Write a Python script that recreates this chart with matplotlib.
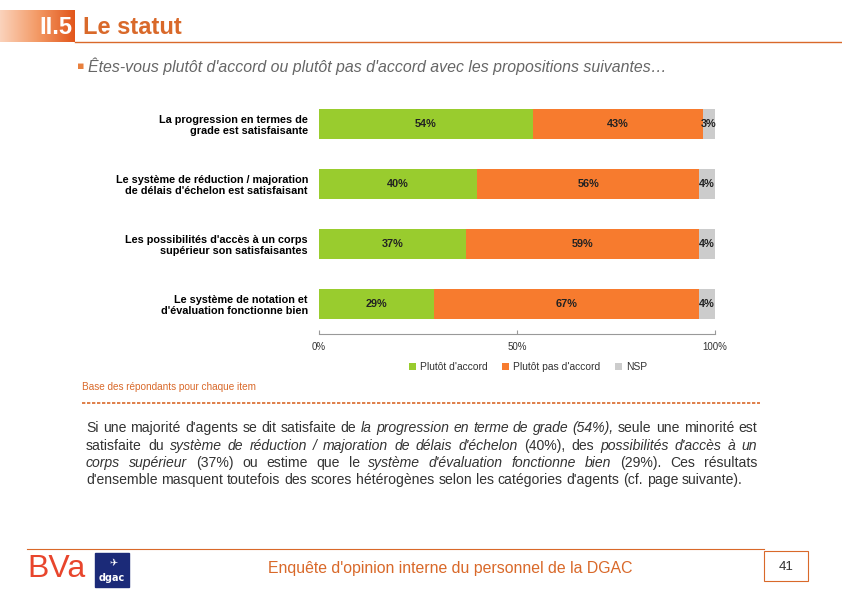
import matplotlib
matplotlib.use("Agg")
import matplotlib.pyplot as plt
import numpy as np
from matplotlib.patches import Rectangle
from matplotlib.colors import LinearSegmentedColormap

W, H = 842, 595
plt.rcParams['font.family'] = ['Liberation Sans', 'DejaVu Sans']

categories = [
    "La progression en termes de\ngrade est satisfaisante",
    "Le système de réduction / majoration\nde délais d'échelon est satisfaisant",
    "Les possibilités d'accès à un corps\nsupérieur son satisfaisantes",
    "Le système de notation et\nd'évaluation fonctionne bien",
]
accord = [54, 40, 37, 29]
pas_accord = [43, 56, 59, 67]
nsp = [3, 4, 4, 4]
series_names = ["Plutôt d'accord", "Plutôt pas d'accord", "NSP"]
tick_values = [0, 50, 100]
tick_labels = ["0%", "50%", "100%"]

GREEN = "#99CC2E"
ORANGE = "#F77B2E"
GREY = "#CCCCCC"
ACCENT = "#D9692A"

fig = plt.figure(figsize=(W / 100, H / 100), dpi=100)

def fx(px):
    return px / W

def fy(py):
    return 1 - py / H

# ---- header ----
hax = fig.add_axes([0, fy(42), fx(75), (42 - 10) / H])
grad = np.linspace(0, 1, 256).reshape(1, -1)
cm = LinearSegmentedColormap.from_list("g", ["#FBD3BC", "#F39A66", "#E2561B"])
hax.imshow(grad, aspect="auto", cmap=cm, extent=[0, 1, 0, 1])
hax.axis("off")
fig.text(fx(72), fy(27), "II.5", color="white", fontsize=17, fontweight="bold",
         ha="right", va="center")
fig.text(fx(83), fy(27), "Le statut", color=ACCENT, fontsize=17, fontweight="bold",
         ha="left", va="center")
fig.add_artist(plt.Line2D([fx(75), 1], [fy(41.5), fy(41.5)], color=ACCENT, lw=1))

fig.text(fx(77), fy(66), "▪", color="#E8803E", fontsize=8, ha="left", va="center",
         family=['DejaVu Sans'])
fig.text(fx(88), fy(66),
         "Êtes-vous plutôt d'accord ou plutôt pas d'accord avec les propositions suivantes…",
         color="#666666", fontsize=11.4, style="italic", ha="left", va="center")

# ---- chart ----
ax_top, ax_bot = 93.5, 334
ax = fig.add_axes([fx(319), fy(ax_bot), fx(715) - fx(319), (ax_bot - ax_top) / H])
y = np.arange(len(categories))
acc = np.array(accord)
pas = np.array(pas_accord)
ns = np.array(nsp)
ax.barh(y, acc, height=0.5, color=GREEN, label=series_names[0])
ax.barh(y, pas, left=acc, height=0.5, color=ORANGE, label=series_names[1])
ax.barh(y, ns, left=acc + pas, height=0.5, color=GREY, label=series_names[2])
for i in range(len(categories)):
    ax.text(acc[i] / 2, y[i], f"{accord[i]}%", ha="center", va="center",
            fontsize=7.8, fontweight="bold", color="#222222")
    ax.text(acc[i] + pas[i] / 2, y[i], f"{pas_accord[i]}%", ha="center", va="center",
            fontsize=7.8, fontweight="bold", color="#222222")
    ax.text(acc[i] + pas[i] + ns[i] / 2, y[i], f"{nsp[i]}%", ha="center", va="center",
            fontsize=7.8, fontweight="bold", color="#222222")
ax.set_xlim(0, 100)
ax.set_ylim(3.5, -0.5)
ax.set_yticks(y)
ax.set_yticklabels(categories, fontsize=7.8, fontweight="bold", ha="right", linespacing=1.15)
ax.tick_params(axis="y", length=0, pad=8)
ax.set_xticks(tick_values)
ax.set_xticklabels(tick_labels, fontsize=7, color="#333333")
ax.tick_params(axis="x", length=3, direction="in", color="#999999", pad=6)
for s in ["top", "right", "left"]:
    ax.spines[s].set_visible(False)
ax.spines["bottom"].set_color("#999999")
ax.spines["bottom"].set_linewidth(0.8)
ax.set_facecolor("none")

leg = fig.legend(loc="center", bbox_to_anchor=(fx(528), fy(367)), ncol=3, frameon=False,
                 fontsize=7.4, handlelength=0.7, handleheight=0.7, handletextpad=0.4,
                 columnspacing=1.4)
for t in leg.get_texts():
    t.set_color("#333333")

# ---- footnote and separator ----
fig.text(fx(82), fy(387), "Base des répondants pour chaque item", color=ACCENT,
         fontsize=7.2, ha="left", va="center")
fig.add_artist(plt.Line2D([fx(82), fx(760)], [fy(403), fy(403)], color=ACCENT,
                          lw=1.2, ls=(0, (2, 1))))

# ---- justified paragraph ----
lines = [
    [("Si une majorité d'agents se dit satisfaite de ", False), ("la progression en terme de grade (54%),", True),
     (" seule une minorité est", False)],
    [("satisfaite du ", False), ("système de réduction / majoration de délais d'échelon", True),
     (" (40%), des ", False), ("possibilités d'accès à un", True)],
    [("corps supérieur", True), (" (37%) ou estime que le ", False),
     ("système d'évaluation fonctionne bien", True), (" (29%). Ces résultats", False)],
    [("d'ensemble masquent toutefois des scores hétérogènes selon les catégories d'agents (cf. page suivante).", False)],
]
x0, x1 = 86, 757
line_y = [428, 446, 463, 480]
renderer = fig.canvas.get_renderer()
fs = 10.1

def measure(txt, it):
    t = fig.text(0, 0, txt, fontsize=fs, style="italic" if it else "normal")
    w = t.get_window_extent(renderer).width
    t.remove()
    return w

space_w = measure("a a", False) - measure("aa", False)

for li, segs in enumerate(lines):
    groups = []
    prev_end_space = True
    for txt, it in segs:
        parts = txt.split(" ")
        first = True
        for p in parts:
            if p == "":
                first = False
                continue
            if first and not prev_end_space and groups:
                groups[-1].append((p, it))
            else:
                groups.append([(p, it)])
            first = False
        prev_end_space = txt.endswith(" ")
    widths = [sum(measure(w, it) for w, it in g) for g in groups]
    total = sum(widths)
    last = li == len(lines) - 1
    if last or len(groups) < 2:
        gap = space_w
    else:
        gap = (x1 - x0 - total) / (len(groups) - 1)
    cx = x0
    for g, gw in zip(groups, widths):
        gx = cx
        for wtxt, it in g:
            t = fig.text(fx(gx), fy(line_y[li]), wtxt, fontsize=fs,
                         style="italic" if it else "normal", color="#333333",
                         ha="left", va="center")
            gx += t.get_window_extent(renderer).width
        cx += gw + gap

# ---- footer ----
fig.add_artist(plt.Line2D([fx(27), fx(764)], [fy(549), fy(549)], color=ACCENT, lw=0.8))
fig.add_artist(Rectangle((fx(764), fy(581)), fx(808) - fx(764), (581 - 551) / H,
                         transform=fig.transFigure, fill=False, edgecolor=ACCENT, lw=0.8))
fig.text(fx(786), fy(567), "41", color="#333333", fontsize=9.5, ha="center", va="center")
fig.text(fx(450), fy(568), "Enquête d'opinion interne du personnel de la DGAC",
         color=ACCENT, fontsize=11.4, ha="center", va="center")
fig.text(fx(27), fy(569), "BVa", color="#E8452C", fontsize=23, ha="left", va="center",
         family=["Liberation Sans"])
fig.add_artist(Rectangle((fx(95), fy(587)), fx(129) - fx(95), (587 - 553) / H,
                         transform=fig.transFigure, color="#1B2A78"))
fig.text(fx(112), fy(578), "dgac", color="white", fontsize=7, fontweight="bold",
         ha="center", va="center", family=["DejaVu Sans"])
fig.text(fx(113), fy(563), "✈", color="white", fontsize=7, ha="center", va="center",
         family=["DejaVu Sans"])

fig.savefig("out.png", dpi=100)
